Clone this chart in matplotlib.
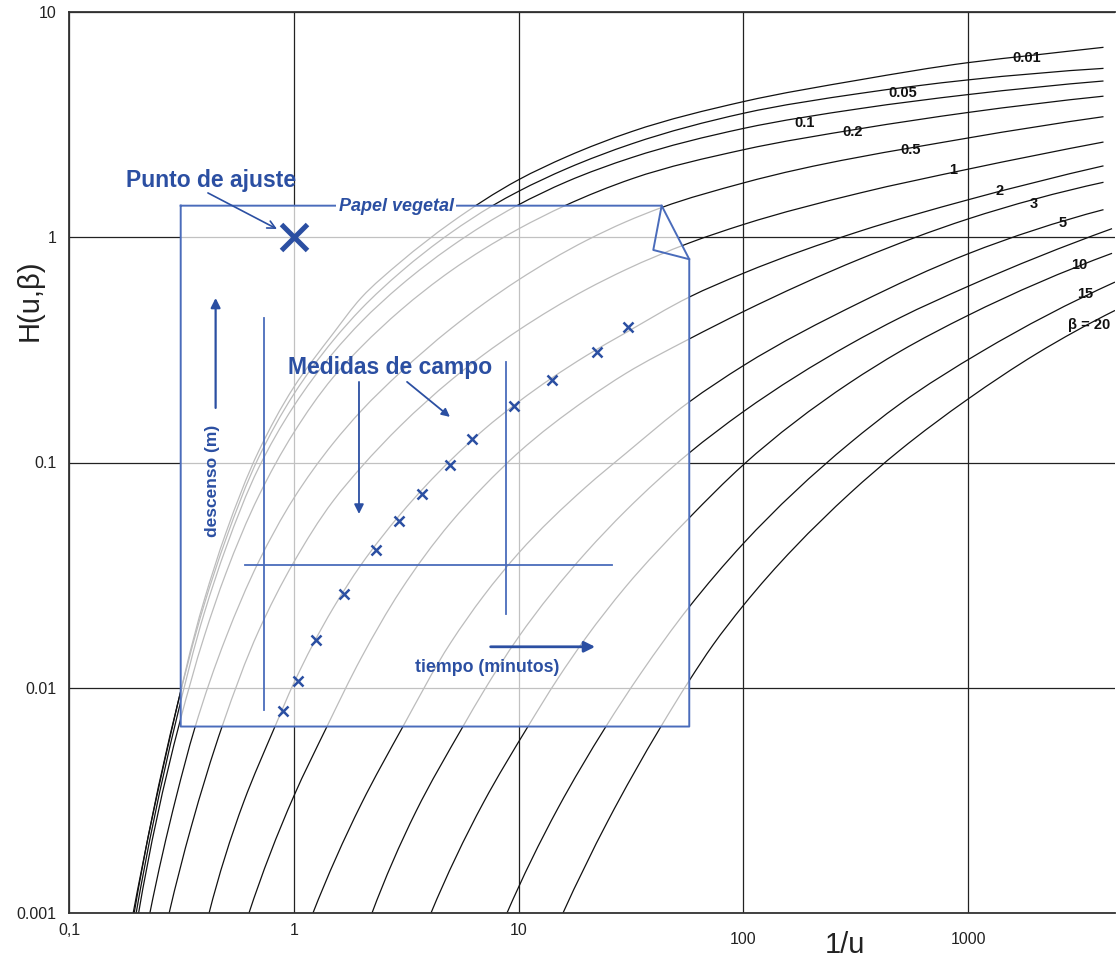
import numpy as np
import matplotlib
matplotlib.use('Agg')
import matplotlib.pyplot as plt
from matplotlib.path import Path
from matplotlib.patches import PathPatch

plt.rcParams['font.family'] = ['Liberation Sans', 'DejaVu Sans']

# Type curves H(u, beta): 1/u values and H values
ux_001 = [0.193, 0.28, 0.4, 0.5, 0.7, 1, 1.5, 2, 3, 5, 10, 16.4, 32, 100, 330, 1000, 2000, 4000]
h_001 = [0.001, 0.0059, 0.0246, 0.049, 0.113, 0.216, 0.375, 0.54, 0.78, 1.16, 1.80, 2.28, 2.95, 4.0, 5.0, 5.96, 6.45, 6.97]

ux_005 = [0.195, 0.3, 0.4, 0.5, 0.7, 1, 1.5, 2, 3, 5, 7.66, 10, 16.4, 32, 100, 330, 1000, 4000]
h_005 = [0.001, 0.0080, 0.0235, 0.046, 0.106, 0.201, 0.349, 0.482, 0.703, 1.047, 1.381, 1.599, 2.018, 2.602, 3.55, 4.35, 4.996, 5.62]

ux_01 = [0.199, 0.3, 0.4, 0.5, 0.7, 1, 1.5, 2, 3, 5, 9.83, 16.4, 32, 100, 330, 1000, 4000]
h_01 = [0.001, 0.0072, 0.0215, 0.042, 0.0953, 0.178, 0.3075, 0.422, 0.613, 0.908, 1.381, 1.766, 2.261, 3.041, 3.725, 4.30, 4.94]

ux_02 = [0.204, 0.3118, 0.4, 0.5, 0.7, 1, 1.5, 2, 3, 5, 7, 10, 16.08, 32, 100, 330, 1000, 4000]
h_02 = [0.001, 0.0071, 0.01697, 0.0324, 0.0714, 0.1357, 0.2394, 0.3266, 0.4762, 0.7094, 0.8857, 1.089, 1.381, 1.819, 2.446, 3.032, 3.581, 4.23]

ux_05 = [0.229, 0.3, 0.3635, 0.5, 0.7, 1, 1.5, 2, 3, 5, 7, 10, 20, 30, 43.3, 100, 1000, 4000]
h_05 = [0.001, 0.00328, 0.00667, 0.0168, 0.0365, 0.0694, 0.122, 0.170, 0.253, 0.393, 0.507, 0.647, 0.967, 1.171, 1.355, 1.742, 2.759, 3.43]

ux_1 = [0.279, 0.35, 0.4842, 0.7, 1, 1.5, 2, 3, 5, 7, 10, 20, 30, 57.45, 100, 330, 1000, 4000]
h_1 = [0.001, 0.00242, 0.00691, 0.018, 0.0361, 0.0677, 0.0956, 0.1464, 0.2318, 0.3014, 0.3869, 0.5864, 0.7181, 0.9434, 1.139, 1.572, 2.006, 2.647]

ux_2 = [0.42, 0.6, 0.8249, 1, 1.5, 2, 3, 5, 7, 10, 20, 30, 57.45, 100, 330, 1000, 4000]
h_2 = [0.001, 0.00313, 0.00673, 0.01048, 0.02264, 0.03535, 0.0594, 0.1026, 0.1398, 0.186, 0.298, 0.377, 0.5425, 0.692, 1.064, 1.467, 2.075]

ux_3 = [0.632, 1, 1.405, 2, 3, 5, 7, 10, 20, 30, 57.45, 100, 330, 1000, 4000]
h_3 = [0.001, 0.0033, 0.00673, 0.01363, 0.0272, 0.0542, 0.0784, 0.1108, 0.1903, 0.2486, 0.3536, 0.4677, 0.8004, 1.206, 1.754]

ux_5 = [1.217, 2, 3.06, 5, 7, 10, 20, 30, 57.45, 100, 330, 1000, 4000]
h_5 = [0.001, 0.00306, 0.00673, 0.0159, 0.02563, 0.0396, 0.0781, 0.1098, 0.1858, 0.2692, 0.5129, 0.8447, 1.326]

ux_7 = [2.228, 3.5, 5.657, 7, 10, 20, 30, 57.45, 100, 298, 497, 1000, 4365]
h_7 = [0.001, 0.00283, 0.00673, 0.00967, 0.0168, 0.03995, 0.06115, 0.1103, 0.1682, 0.3347, 0.4391, 0.6057, 1.092]

ux_10 = [4.077, 7, 11.01, 15, 20, 30, 57.45, 100, 298, 497, 1000, 4365]
h_10 = [0.001, 0.00311, 0.00673, 0.01104, 0.01675, 0.02813, 0.0568, 0.0977, 0.2263, 0.311, 0.4502, 0.8486]

ux_15 = [8.88, 15, 24.47, 35, 57.45, 100, 298, 497, 1152, 4500]
h_15 = [0.001, 0.00293, 0.00673, 0.0116, 0.02286, 0.0437, 0.122, 0.1818, 0.3113, 0.6324]

ux_20 = [15.76, 25, 43, 57.45, 73.2, 100, 298, 497, 1000, 2023, 4500]
h_20 = [0.001, 0.00257, 0.00673, 0.01076, 0.01547, 0.0232, 0.073, 0.1134, 0.1915, 0.3048, 0.4732]

curves = [(ux_001, h_001), (ux_005, h_005), (ux_01, h_01), (ux_02, h_02), (ux_05, h_05),
          (ux_1, h_1), (ux_2, h_2), (ux_3, h_3), (ux_5, h_5), (ux_7, h_7),
          (ux_10, h_10), (ux_15, h_15), (ux_20, h_20)]

# curve labels and where they sit
beta_labels = ['0.01', '0.05', '0.1', '0.2', '0.5', '1', '2', '3', '5', '10', '15', 'β = 20']
label_x = [1827, 513, 188, 307, 557, 856, 1385, 1962, 2641, 3111, 3308, 3450]
label_y = [6.25, 4.37, 3.216, 2.934, 2.44, 1.99, 1.606, 1.405, 1.157, 0.7524, 0.56, 0.408]

# field measurements drawn on the tracing paper
t_field = [0.895, 1.044, 1.255, 1.672, 2.32, 2.94, 3.72, 4.95, 6.20, 9.54, 14.1, 22.3, 30.7]
s_field = [0.0079, 0.0107, 0.0163, 0.0261, 0.0409, 0.0551, 0.0725, 0.0976, 0.127, 0.178, 0.233, 0.310, 0.400]

blue = '#2b4fa2'
paper_blue = '#4a6cbb'


def smooth_path(ux, h):
    # curved (Bezier) segments through the read points, built in log space
    p = np.column_stack([np.log10(ux), np.log10(h)])
    d = np.hypot(*np.diff(p, axis=0).T)
    t = np.concatenate([[0], np.cumsum(d)])
    m = np.gradient(p, t, axis=0)
    # end tangents that keep the end pieces bending the same way as the curve
    m[0] = 2 * (p[1] - p[0]) / d[0] - m[1]
    m[-1] = 2 * (p[-1] - p[-2]) / d[-1] - m[-2]
    verts = [p[0]]
    codes = [Path.MOVETO]
    for i in range(len(p) - 1):
        dt = t[i + 1] - t[i]
        verts += [p[i] + m[i] * dt / 3, p[i + 1] - m[i + 1] * dt / 3, p[i + 1]]
        codes += [Path.CURVE4] * 3
    return Path(10 ** np.array(verts), codes)


fig = plt.figure(figsize=(11.19, 9.61), dpi=100)
ax = fig.add_axes([69 / 1119, 48 / 961, 1046 / 1119, 901 / 961])
ax.set_xscale('log')
ax.set_yscale('log')
ax.set_xlim(0.1, 4500)
ax.set_ylim(0.001, 10)

for ux, h in curves:
    ax.add_patch(PathPatch(smooth_path(ux, h), fill=False, edgecolor='#111111',
                           lw=0.9, zorder=2))

for lab, lx, ly in zip(beta_labels, label_x, label_y):
    ax.text(lx, ly, lab, fontsize=10.5, fontweight='bold', ha='center', va='center',
            color='#111111', zorder=5)

ax.set_xticks([0.1, 1, 10, 100, 1000], ['0,1', '1', '10', '100', '1000'])
ax.set_yticks([0.001, 0.01, 0.1, 1, 10], ['0.001', '0.01', '0.1', '1', '10'])
ax.xaxis.set_minor_locator(plt.NullLocator())
ax.yaxis.set_minor_locator(plt.NullLocator())
ax.tick_params(length=0, labelsize=11.5, colors='#222222')
ax.tick_params(axis='x', pad=7)
ax.tick_params(axis='y', pad=9)
for t in ax.xaxis.get_major_ticks()[3:]:
    t.set_pad(14)
ax.grid(True, color='#222222', lw=0.9)
ax.set_axisbelow(True)
for side in ['left', 'bottom', 'top']:
    ax.spines[side].set_color('#333333')
    ax.spines[side].set_linewidth(1.3)
ax.spines['right'].set_visible(False)

ax.set_xlabel('1/u', fontsize=21, color='#222222')
ax.xaxis.set_label_coords(0.742, -0.02)
ax.set_ylabel('H(u,β)', fontsize=21, color='#222222')
ax.yaxis.set_label_coords(-0.024, 0.68)

# tracing paper (papel vegetal) laid over the type curves
paper_x = [0.314, 43.3, 57.45, 57.45, 0.314, 0.314]
paper_y = [1.381, 1.381, 0.7986, 0.006727, 0.006727, 1.381]
ax.fill(paper_x, paper_y, color='white', alpha=0.72, lw=0, zorder=3)
ax.plot(paper_x, paper_y, color=paper_blue, lw=1.4, zorder=4)
ax.plot([43.3, 39.74, 57.45], [1.381, 0.878, 0.7986], color=paper_blue, lw=1.4, zorder=4)

# axes drawn on the tracing paper
ax.plot([0.739, 0.739], [0.00798, 0.437], color=paper_blue, lw=1.3, zorder=4)
ax.plot([8.76, 8.76], [0.02128, 0.28], color=paper_blue, lw=1.3, zorder=4)
ax.plot([0.6066, 25.95], [0.0351, 0.0351], color=paper_blue, lw=1.3, zorder=4)

ax.plot(t_field, s_field, ls='none', marker='x', ms=7, mew=1.8, color=blue, zorder=6)
ax.plot([1], [1], marker='x', ms=19, mew=3.6, color=blue, zorder=6)

txt = dict(color=blue, fontweight='bold', ha='center', va='center', zorder=7)
ax.text(0.428, 1.778, 'Punto de ajuste', fontsize=16.5, **txt)
ax.text(2.849, 1.363, 'Papel vegetal', fontsize=13, style='italic',
        bbox=dict(fc='white', ec='none', pad=1.5), **txt)
ax.text(2.679, 0.263, 'Medidas de campo', fontsize=16.5, **txt)
ax.text(0.437, 0.0828, 'descenso (m)', fontsize=12.5, rotation=90, **txt)
ax.text(7.235, 0.01226, 'tiempo (minutos)', fontsize=12.8, **txt)

arrow = dict(color=blue, shrinkA=0, shrinkB=0)
ax.annotate('', xy=(0.842, 1.088), xytext=(0.415, 1.573), zorder=7,
            arrowprops=dict(arrowstyle='->', lw=1.2, mutation_scale=14, **arrow))
ax.annotate('', xy=(1.95, 0.0591), xytext=(1.95, 0.2279), zorder=7,
            arrowprops=dict(arrowstyle='-|>', lw=1.3, mutation_scale=14, **arrow))
ax.annotate('', xy=(4.95, 0.1594), xytext=(3.19, 0.228), zorder=7,
            arrowprops=dict(arrowstyle='-|>', lw=1.3, mutation_scale=12, **arrow))
ax.annotate('', xy=(0.449, 0.5377), xytext=(0.449, 0.1747), zorder=7,
            arrowprops=dict(arrowstyle='-|>', lw=1.6, mutation_scale=14, **arrow))
ax.annotate('', xy=(21.9, 0.0152), xytext=(7.51, 0.0152), zorder=7,
            arrowprops=dict(arrowstyle='-|>', lw=2.0, mutation_scale=16, **arrow))

fig.savefig('out.png', dpi=100)
